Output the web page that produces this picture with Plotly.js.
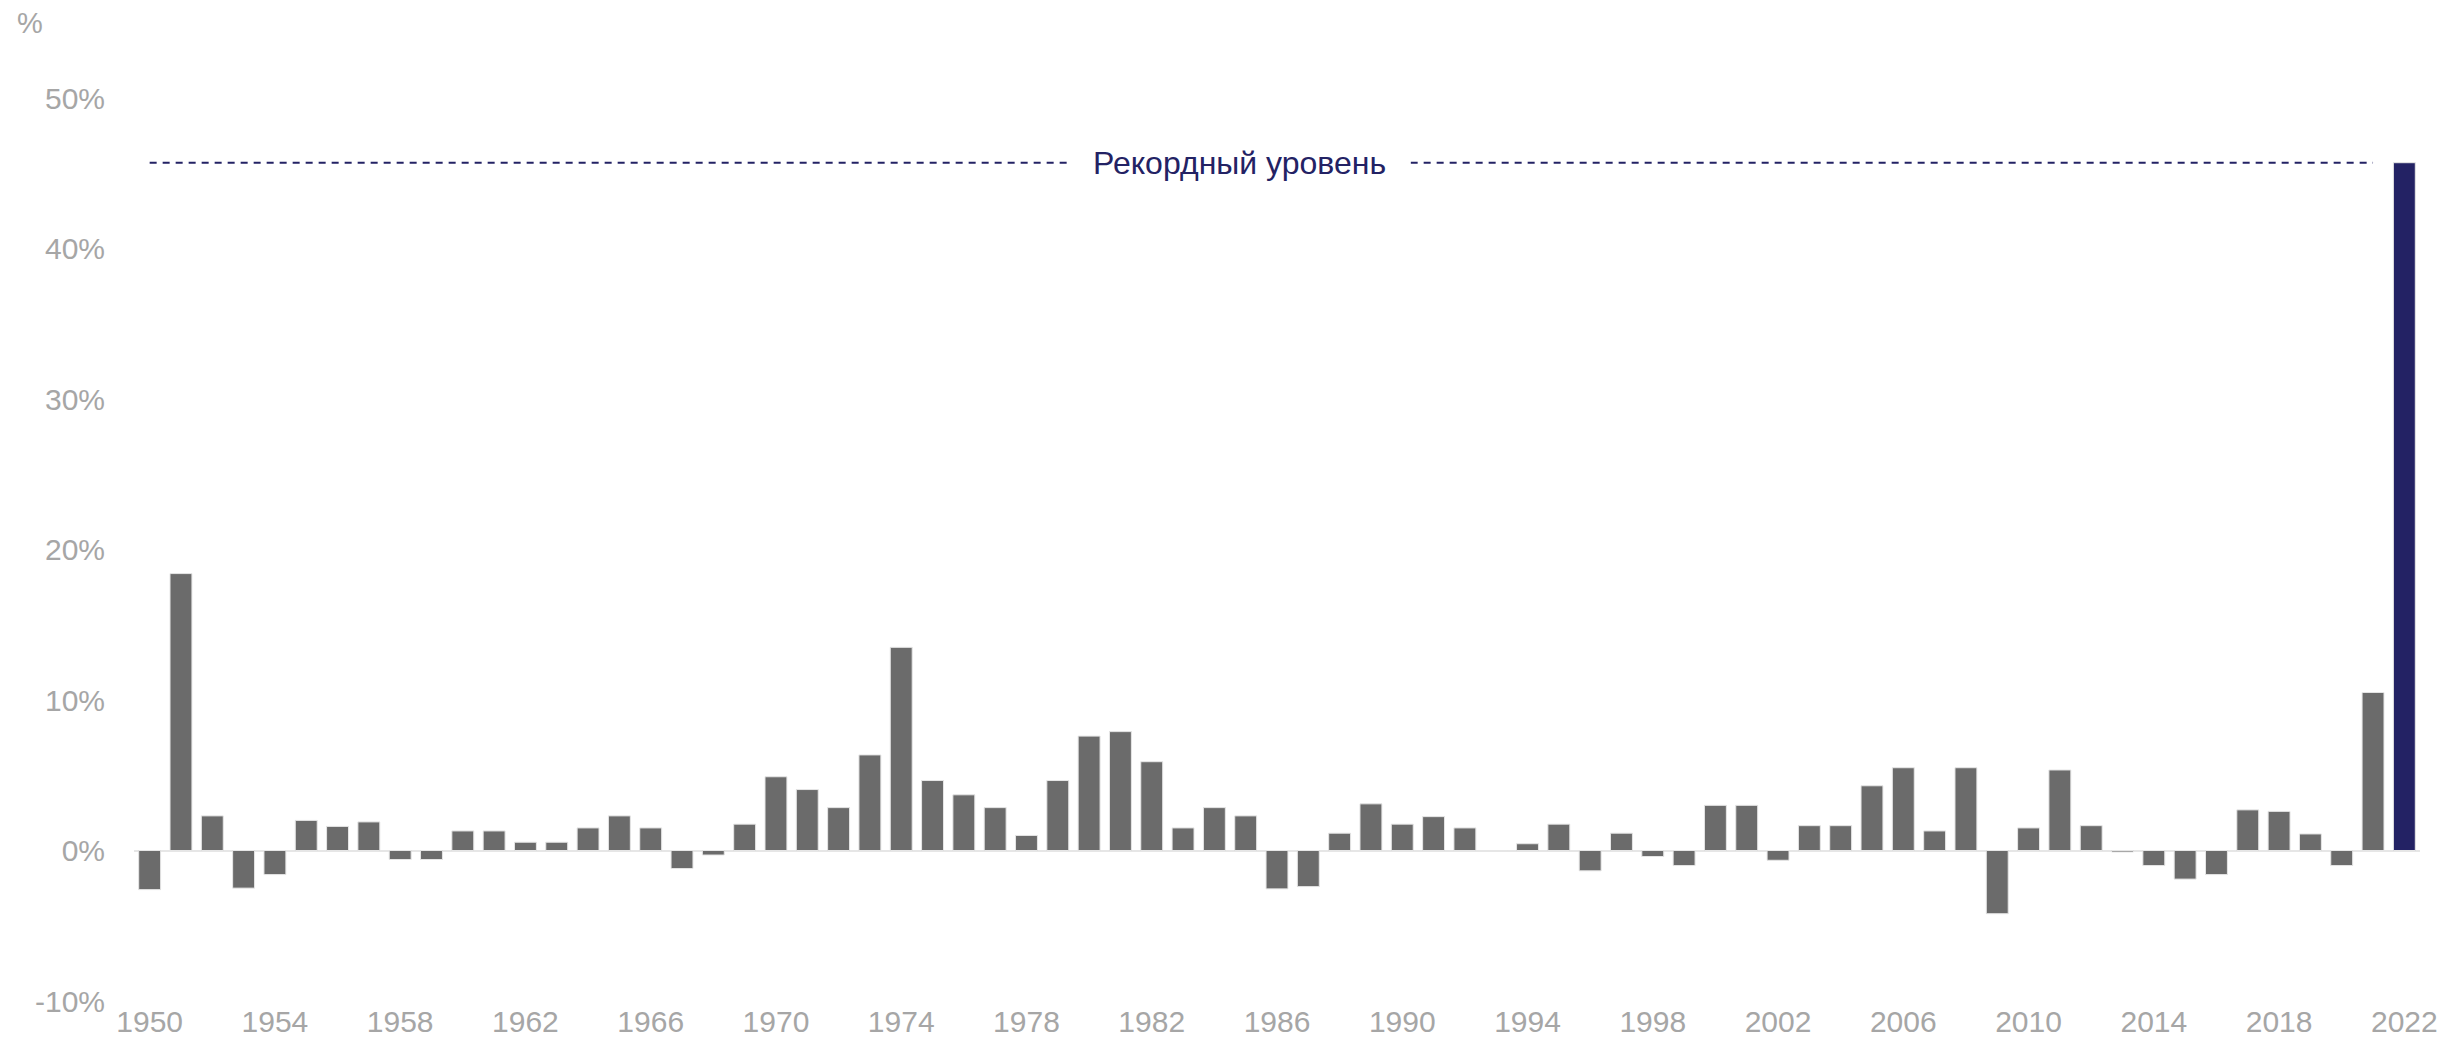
<!DOCTYPE html>
<html>
<head>
<meta charset="utf-8">
<script src="https://cdn.plot.ly/plotly-3.0.1.min.js"></script>
<style>
  html, body { margin: 0; padding: 0; background: #fff; }
  #chart { width: 2448px; height: 1054px; }
</style>
</head>
<body>
<div id="chart"></div>
<script>
// annual change, %
const years = [];
for (let y = 1950; y <= 2022; y++) years.push(y);

const values = [
  -2.6, 18.4, 2.3, -2.5, -1.6, 2.0, 1.6, 1.9, -0.6, -0.6,
  1.3, 1.3, 0.55, 0.55, 1.5, 2.3, 1.5, -1.2, -0.3, 1.75,
  4.9, 4.05, 2.85, 6.35, 13.5, 4.65, 3.7, 2.85, 1.0, 4.65,
  7.6, 7.9, 5.9, 1.5, 2.85, 2.3, -2.55, -2.4, 1.15, 3.1,
  1.75, 2.25, 1.5, 0, 0.45, 1.75, -1.35, 1.15, -0.4, -1.0,
  3.0, 3.0, -0.65, 1.65, 1.65, 4.3, 5.5, 1.3, 5.5, -4.2,
  1.5, 5.35, 1.65, -0.1, -1.0, -1.9, -1.6, 2.7, 2.6, 1.1,
  -1.0, 10.5, 45.7
];

const xTicks = [];
for (let y = 1950; y <= 2022; y += 4) xTicks.push(y);
const yTicks = [-10, 0, 10, 20, 30, 40, 50];
const yTickText = yTicks.map(v => v + '%');

const recordLabel = 'Рекордный уровень';

const gray = '#6b6b6b';
const navy = '#232264';
const lastYear = years[years.length - 1];
const record = Math.max(...values);

const barColors = years.map(y => (y === lastYear ? navy : gray));

const bars = {
  x: years,
  y: values,
  type: 'bar',
  marker: { color: barColors, line: { color: '#e6e6e6', width: 1 } },
  hoverinfo: 'skip'
};

// dashed record line across the earlier years
const recordLine = {
  x: [years[0], years[years.length - 2]],
  y: [record, record],
  type: 'scatter',
  mode: 'lines',
  line: { color: navy, width: 2, dash: '7px,6px' },
  hoverinfo: 'skip'
};

const font = 'Liberation Sans, Arial, sans-serif';

const layout = {
  width: 2448,
  height: 1054,
  margin: { l: 134, r: 28, t: 98, b: 53 },
  paper_bgcolor: '#ffffff',
  plot_bgcolor: '#ffffff',
  showlegend: false,
  hovermode: false,
  bargap: 0.3,
  font: { family: font, size: 30, color: '#a6a6a6' },
  xaxis: {
    range: [1949.5, 2022.5],
    tickvals: xTicks,
    ticktext: xTicks.map(String),
    showgrid: false,
    zeroline: false,
    showline: false,
    ticks: '',
    tickfont: { size: 30, color: '#a6a6a6' }
  },
  yaxis: {
    range: [-10, 50],
    tickvals: yTicks,
    ticktext: yTickText,
    showgrid: false,
    zeroline: true,
    zerolinecolor: '#e6e6e6',
    zerolinewidth: 2,
    showline: false,
    ticks: '',
    ticklabelstandoff: 28,
    tickfont: { size: 30, color: '#a6a6a6' }
  },
  annotations: [
    {
      x: 1984.8, y: record, xref: 'x', yref: 'y',
      text: recordLabel, showarrow: false,
      font: { family: font, size: 32, color: navy },
      bgcolor: '#ffffff', borderpad: 24,
      xanchor: 'center', yanchor: 'middle'
    },
    {
      x: -0.052, y: 1.083, xref: 'paper', yref: 'paper',
      text: '%', showarrow: false,
      font: { family: font, size: 29, color: '#a6a6a6' },
      xanchor: 'left', yanchor: 'middle'
    }
  ]
};

Plotly.newPlot('chart', [bars, recordLine], layout, { displayModeBar: false, staticPlot: true });
</script>
</body>
</html>
